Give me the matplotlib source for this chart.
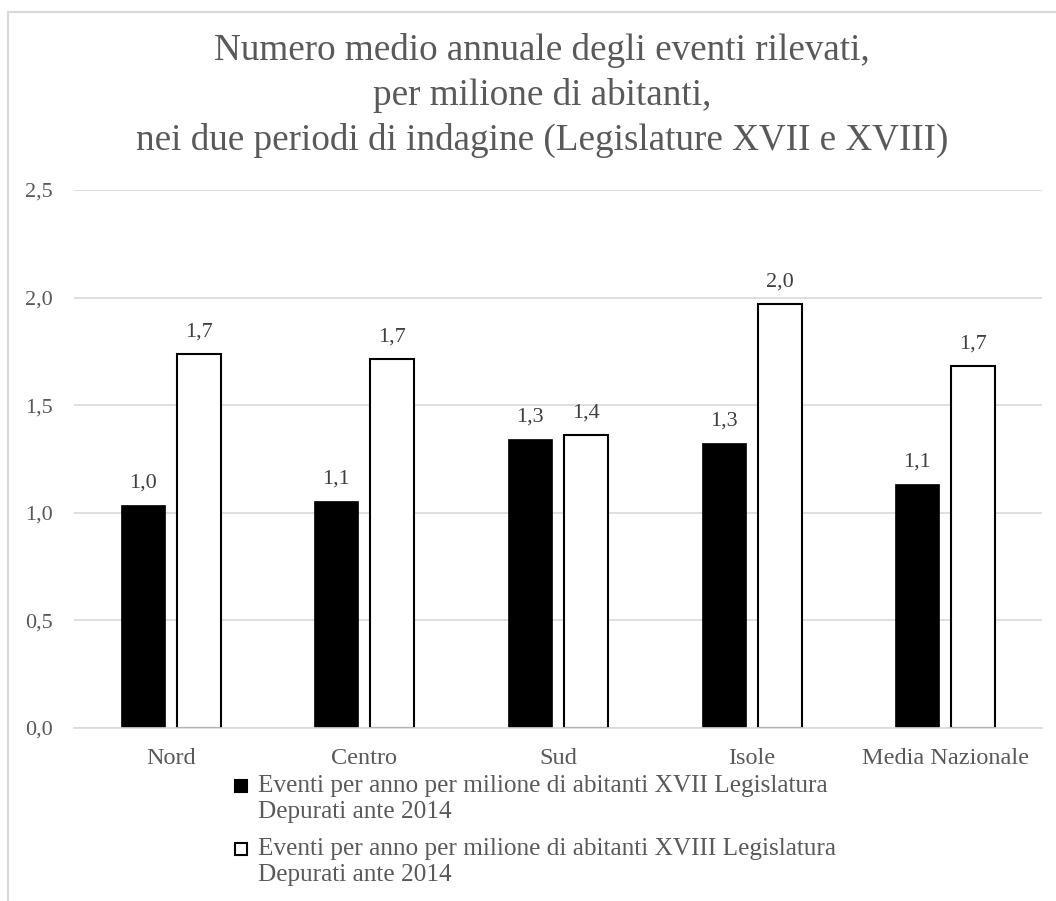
import matplotlib
matplotlib.use("Agg")
import numpy as np
import matplotlib.pyplot as plt
from matplotlib.patches import Rectangle

categories = ["Nord", "Centro", "Sud", "Isole", "Media Nazionale"]
xvii = [1.035, 1.055, 1.343, 1.323, 1.133]
xviii = [1.74, 1.715, 1.36, 1.969, 1.68]
labels_xvii = ["1,0", "1,1", "1,3", "1,3", "1,1"]
labels_xviii = ["1,7", "1,7", "1,4", "2,0", "1,7"]
yticks = [0.0, 0.5, 1.0, 1.5, 2.0, 2.5]
ytick_labels = ["0,0", "0,5", "1,0", "1,5", "2,0", "2,5"]
series_names = [
    "Eventi per anno per milione di abitanti XVII Legislatura\nDepurati ante 2014",
    "Eventi per anno per milione di abitanti XVIII Legislatura\nDepurati ante 2014",
]
series_fill = ["black", "white"]
title = ("Numero medio annuale degli eventi rilevati,\n"
         "per milione di abitanti,\n"
         "nei due periodi di indagine (Legislature XVII e XVIII)")

plt.rcParams['font.family'] = ['Liberation Serif', 'DejaVu Serif']
grey = "#595959"

W, H = 1056, 901
fig = plt.figure(figsize=(W / 100, H / 100), dpi=100)
ax = fig.add_axes([74 / W, 1 - 728 / H, (1042 - 74) / W, (728 - 190) / H])

x = np.arange(len(categories))
bw = 0.227
off = 0.145
b1 = ax.bar(x - off, xvii, bw, color="black", edgecolor="black", linewidth=0.5, zorder=3)
b2 = ax.bar(x + off, xviii, bw, color="white", edgecolor="black", linewidth=1.5, zorder=3)

for bars, labs in [(b1, labels_xvii), (b2, labels_xviii)]:
    for rect, lab in zip(bars, labs):
        ax.annotate(lab, (rect.get_x() + rect.get_width() / 2, rect.get_height()),
                    xytext=(0, 9), textcoords="offset points", ha="center", va="bottom",
                    fontsize=16, color="#404040")

ax.set_xlim(-0.5, len(categories) - 0.5)
ax.set_ylim(0, 2.5)
ax.set_yticks(yticks)
ax.set_yticklabels(ytick_labels, fontsize=16)
ax.set_xticks(x)
ax.set_xticklabels(categories, fontsize=17.5)
ax.tick_params(axis="both", length=0, labelcolor=grey)
ax.tick_params(axis="y", pad=15)
ax.tick_params(axis="x", pad=14.5)
ax.yaxis.grid(True, color="#d9d9d9", linewidth=1.2, zorder=0)
ax.set_axisbelow(True)
for s in ["top", "right", "left"]:
    ax.spines[s].set_visible(False)
ax.spines["bottom"].set_color("#d9d9d9")
ax.spines["bottom"].set_linewidth(1.2)
ax.spines["bottom"].set_zorder(4)

fig.text(542 / W, 1 - 33 / H, title, ha="center", va="top", fontsize=26.7,
         color=grey, linespacing=1.36)

# legend: square on first line of each wrapped label
leg_y = [786, 849]
for name, fc, yy in zip(series_names, series_fill, leg_y):
    fig.patches.append(Rectangle((235 / W, 1 - (yy + 6) / H), 12 / W, 12 / H,
                                 transform=fig.transFigure, facecolor=fc,
                                 edgecolor="black", linewidth=1.5))
    fig.text(258 / W, 1 - (yy - 11) / H, name, ha="left", va="top", fontsize=18.2,
             color=grey, linespacing=1.22)

# outer chart frame
fig.patches.append(Rectangle((8 / W, -0.1), 1.2, 1.1 - 12 / H, transform=fig.transFigure,
                             fill=False, edgecolor="#d9d9d9", linewidth=1.5))

fig.savefig("out.png", dpi=100)
